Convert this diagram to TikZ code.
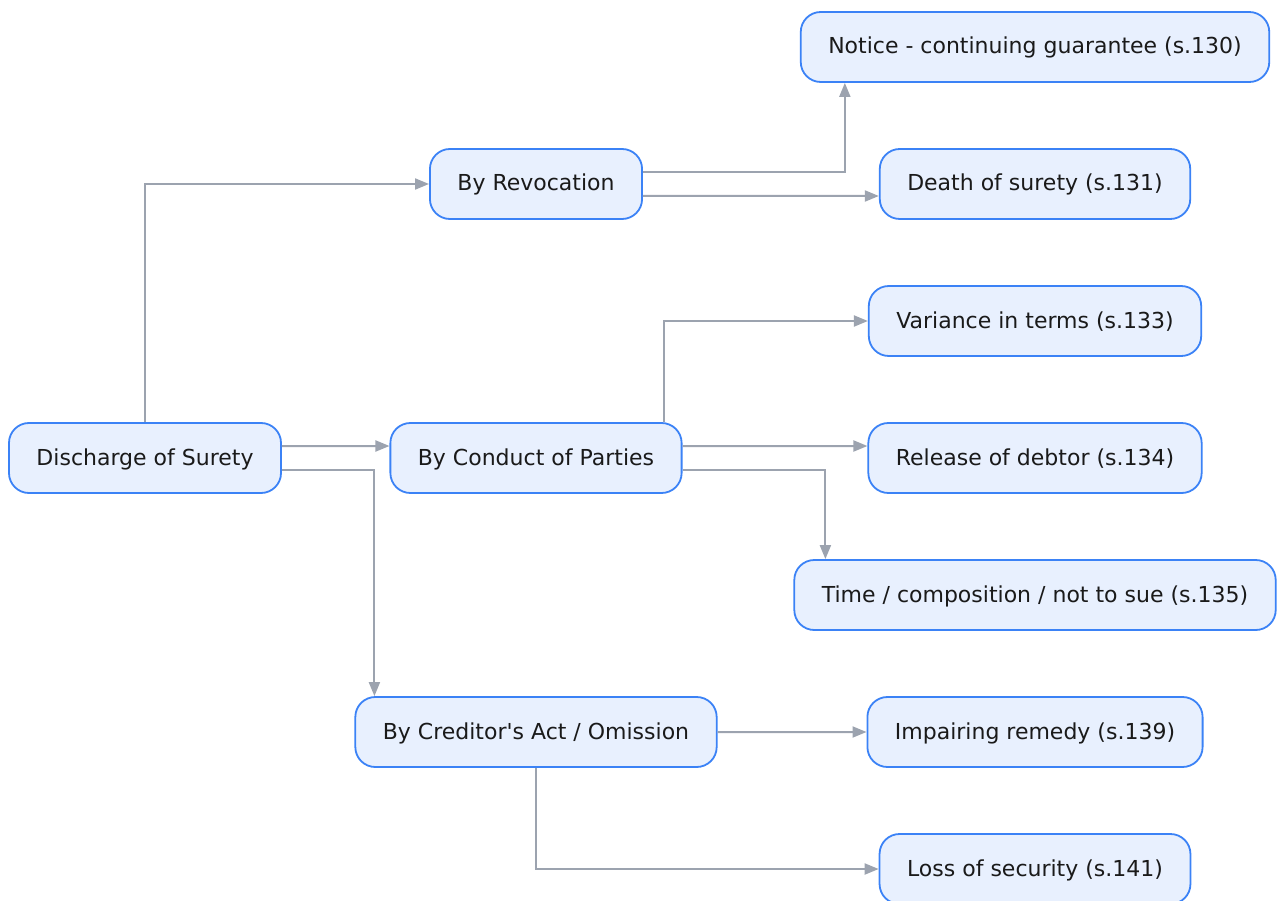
\documentclass[tikz,border=0pt]{standalone}
\usepackage{fontspec}
\setmainfont{DejaVu Sans}
\usepackage{xcolor}
\usepackage{tikz}
\usetikzlibrary{arrows.meta, positioning}

\definecolor{boxfill}{HTML}{E8F0FE}
\definecolor{boxline}{HTML}{3B82F6}
\definecolor{linkgray}{HTML}{9CA3AF}
\definecolor{labeltext}{HTML}{1A1A1A}

\begin{document}
\begin{tikzpicture}[x=1pt, y=-1pt]
\tikzstyle{stepbox} = [rectangle, rounded corners=20pt, draw=boxline, line width=1.8pt, fill=boxfill, text=labeltext, inner xsep=27.5pt, inner ysep=0pt, minimum height=70pt, text height=17pt, text depth=3pt, font=\fontsize{22}{26}\selectfont]
\tikzstyle{arrow} = [draw=linkgray, line width=2pt, -{Triangle[length=14pt, width=11pt]}]

\useasboundingbox (0,0) rectangle (1279,901);

\node (dis) [stepbox] at (145,458) {Discharge of Surety};
\node (rev) [stepbox] at (536,184) {By Revocation};
\node (cond) [stepbox, below=202.2pt of rev] {By Conduct of Parties};
\node (cred) [stepbox, below=202.2pt of cond] {By Creditor\textquotesingle s Act / Omission};

\node (notice) [stepbox] at (1035,47) {Notice - continuing guarantee (s.130)};
\node (death) [stepbox, below=65.2pt of notice] {Death of surety (s.131)};
\node (var) [stepbox, below=65.2pt of death] {Variance in terms (s.133)};
\node (rel) [stepbox, below=65.2pt of var] {Release of debtor (s.134)};
\node (time) [stepbox, below=65.2pt of rel] {Time / composition / not to sue (s.135)};
\node (imp) [stepbox, below=65.2pt of time] {Impairing remedy (s.139)};
\node (loss) [stepbox, below=65.2pt of imp] {Loss of security (s.141)};

\draw [arrow] (dis.north) |- (rev.west);
\draw [arrow] ([yshift=12pt]dis.east) -- ([yshift=12pt]cond.west);
\draw [arrow] ([yshift=-12pt]dis.east) -| ([xshift=20pt]cred.north west);
\draw [arrow] ([yshift=12pt]rev.east) -| ([xshift=45pt]notice.south west);
\draw [arrow] ([yshift=-12pt]rev.east) -- ([yshift=-12pt]death.west);
\draw [arrow] ([xshift=-19pt]cond.north east) |- (var.west);
\draw [arrow] ([yshift=12pt]cond.east) -- ([yshift=12pt]rel.west);
\draw [arrow] ([yshift=-12pt]cond.east) -| ([xshift=32pt]time.north west);
\draw [arrow] (cred.east) -- (imp.west);
\draw [arrow] (cred.south) |- (loss.west);

\end{tikzpicture}
\end{document}
